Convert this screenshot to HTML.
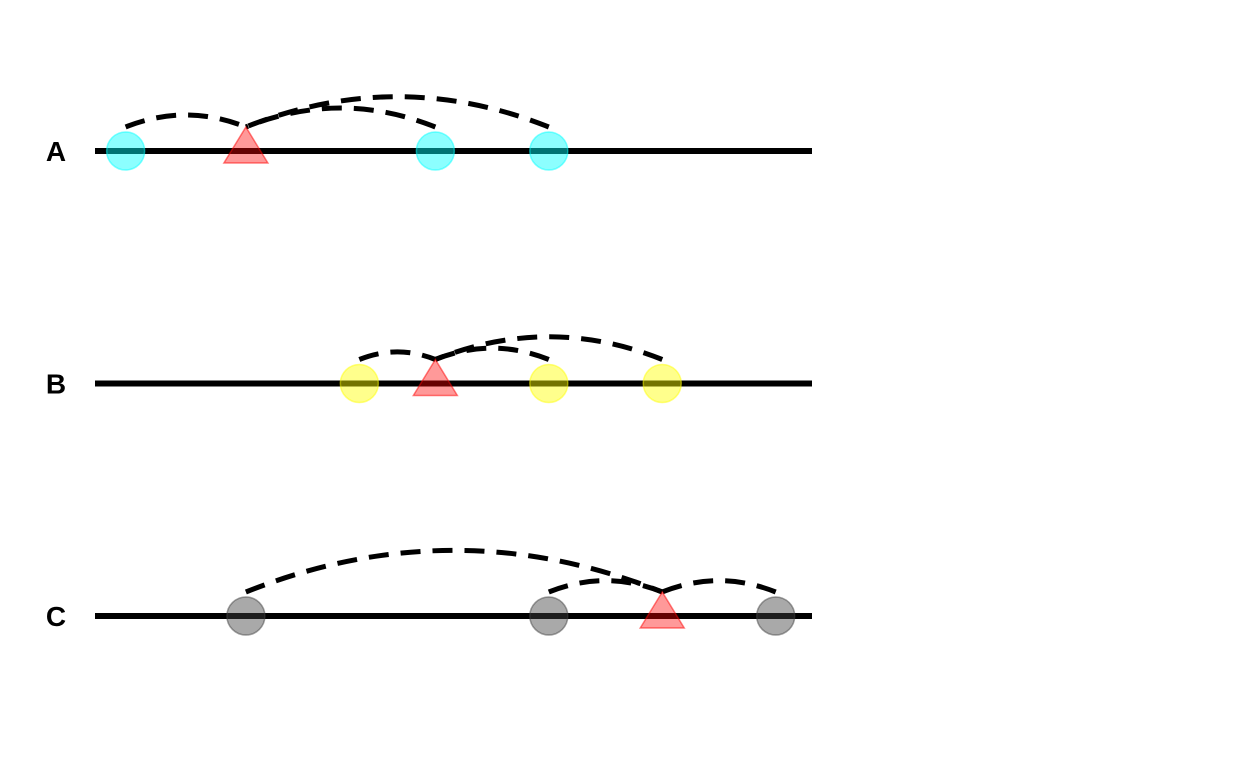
<!DOCTYPE html>
<html><head><meta charset="utf-8"><style>
body{margin:0;background:#fff;}
svg{display:block;}
text{font-family:"Liberation Sans",sans-serif;font-weight:bold;font-size:28px;}
</style></head><body>
<svg id="chart" width="1248" height="768"></svg>
<script>
const rowLabels=["A","B","C"];
const circlePositions=[[0.27,3,4],[2.33,4,5],[1.33,4,6]];
const trianglePositions=[1.33,3,5];
const circleColors=["#00ffff","#ffff00","#404040"];
const xMin=0,xMax=6.32;
const NS="http://www.w3.org/2000/svg";
const svg=document.getElementById('chart');
function sx(v){return 95+(v-xMin)/(xMax-xMin)*(812-95);}
function sy(i){return 151+i*232.5;}
function mk(t,a,p){const e=document.createElementNS(NS,t);for(const k in a)e.setAttribute(k,a[k]);(p||svg).appendChild(e);return e;}
rowLabels.forEach((lab,i)=>{
  const y=sy(i);
  const g=mk('g',{});
  
  
  const t=mk('text',{x:56,y:y+10,'text-anchor':'middle'},g);t.textContent=lab;
  
  
  const ln=mk('line',{x1:95,x2:812,y1:y,y2:y,stroke:'#000','stroke-width':6},g);
  
  
  const tx=sx(trianglePositions[i]);
  circlePositions[i].forEach(v=>{
    const cx=sx(v);
    const c=mk('circle',{cx:cx,cy:y,r:19,fill:circleColors[i],'fill-opacity':0.45,stroke:circleColors[i],'stroke-opacity':0.5,'stroke-width':1.5},g);
    
    
    const d=Math.abs(cx-tx),h=0.1*d,y0=y-24;
    const a=mk('path',{d:`M${cx},${y0} Q${(cx+tx)/2},${y0-2*h} ${tx},${y0}`,fill:'none',stroke:'#000','stroke-width':5,'stroke-dasharray':'20 12'},g);
    
    
  });
  const tr=mk('polygon',{points:`${tx},${y-24} ${tx-22},${y+12} ${tx+22},${y+12}`,fill:'#ff0000','fill-opacity':0.4,stroke:'#ff0000','stroke-opacity':0.5,'stroke-width':1.5},g);
  
  
});
</script>
</body></html>
